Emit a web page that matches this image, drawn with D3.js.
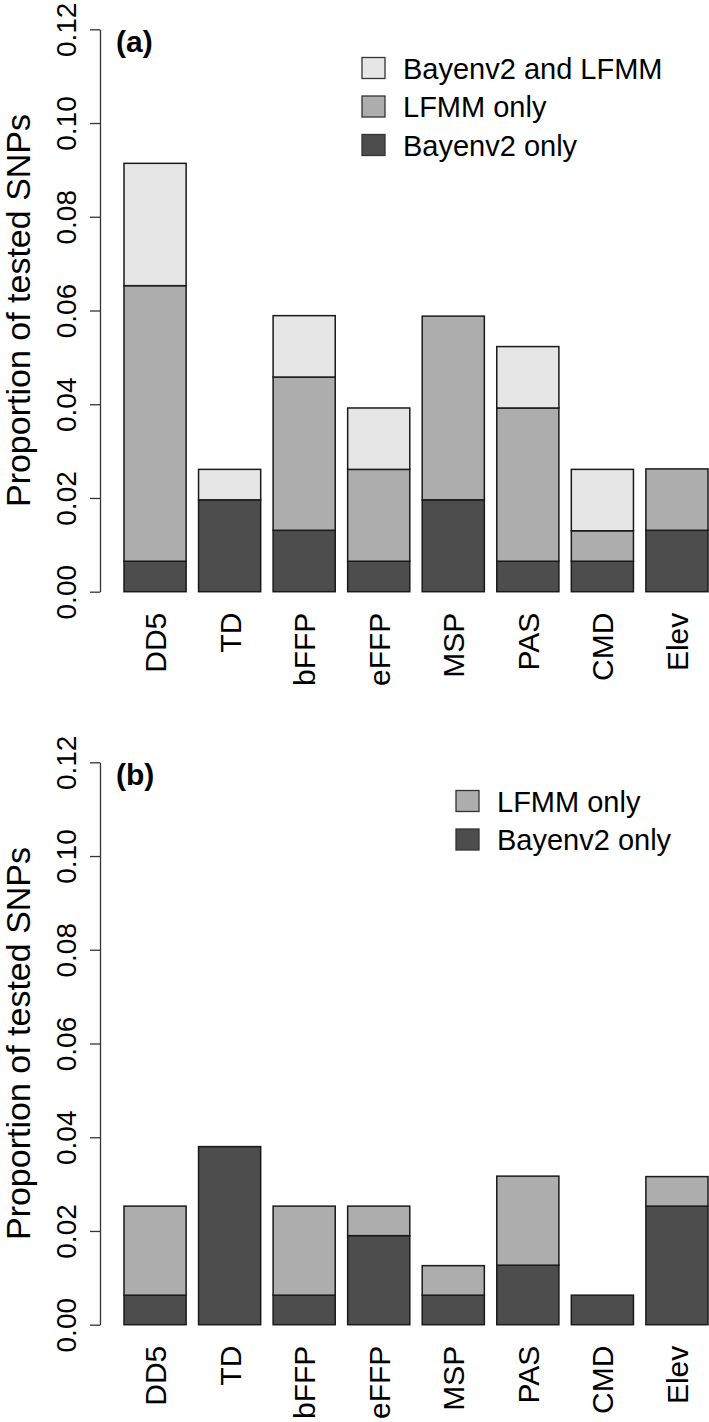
<!DOCTYPE html>
<meta charset="utf-8">
<script src="https://d3js.org/d3.v7.min.js"></script>
<style>
  body { margin: 0; background: #fff; }
  text { font-family: "Liberation Sans", Arial, sans-serif; fill: #000; }
</style>
<div id="chart"></div>
<script>
  // categories (environmental variables)
  var categories = ["DD5", "TD", "bFFP", "eFFP", "MSP", "PAS", "CMD", "Elev"];
  var yTicks = [0, 0.02, 0.04, 0.06, 0.08, 0.10, 0.12];

  // panel (a): proportion of tested SNPs
  var aBayenvOnly = [0.0065, 0.0196, 0.0131, 0.0065, 0.0196, 0.0065, 0.0065, 0.0131];
  var aLfmmOnly   = [0.0588, 0.0000, 0.0327, 0.0196, 0.0392, 0.0327, 0.0065, 0.0131];
  var aBoth       = [0.0261, 0.0065, 0.0131, 0.0131, 0.0000, 0.0131, 0.0131, 0.0000];

  // panel (b)
  var bBayenvOnly = [0.0063, 0.0380, 0.0063, 0.0190, 0.0063, 0.0127, 0.0063, 0.0253];
  var bLfmmOnly   = [0.0190, 0.0000, 0.0190, 0.0063, 0.0063, 0.0190, 0.0000, 0.0063];

  var colors = { bayenv: "#4d4d4d", lfmm: "#adadad", both: "#e6e6e6" };

  var W = 709, H = 1422;
  var svg = d3.select("#chart").append("svg")
    .attr("width", W)
    .attr("height", H);

  var x = d3.scaleBand()
    .domain(categories)
    .range([124, 708])
    .paddingInner(1 / 6)
    .paddingOuter(0);

  function drawPanel(top, tag, series, legendX) {
    var g = svg.append("g").attr("transform", "translate(0," + top + ")");

    var y = d3.scaleLinear()
      .domain([0, 0.12])
      .range([562.4, 0]);
    var y0 = 29.3;

    // stack the series (bottom first)
    var rows = categories.map(function (c, i) {
      var r = { cat: c };
      series.forEach(function (s) { r[s.key] = s.values[i]; });
      return r;
    });
    var stacked = d3.stack().keys(series.map(function (s) { return s.key; }))(rows);

    var plot = g.append("g").attr("transform", "translate(0," + y0 + ")");

    stacked.forEach(function (layer, li) {
      plot.selectAll(".bar" + li)
        .data(layer.filter(function (d) { return d[1] - d[0] > 0; }))
        .enter()
        .append("rect")
        .attr("x", function (d) { return x(d.data.cat); })
        .attr("y", function (d) { return y(d[1]); })
        .attr("width", x.bandwidth())
        .attr("height", function (d) { return y(d[0]) - y(d[1]); })
        .attr("fill", colors[series[li].key])
        .attr("stroke", "#1a1a1a")
        .attr("stroke-width", 1.5);
    });

    // y axis
    var ax = plot.append("g")
      .attr("transform", "translate(100,0)")
      .call(d3.axisLeft(y).tickValues(yTicks).tickSize(10).tickSizeOuter(0).tickFormat(d3.format(".2f")));
    ax.select(".domain").attr("stroke", "#333").attr("stroke-width", 1.3);
    ax.selectAll(".tick line").attr("stroke", "#333").attr("stroke-width", 1.3);
    ax.selectAll(".tick text")
      .attr("x", null).attr("y", null).attr("dy", null)
      .attr("transform", "translate(-24,0) rotate(-90)")
      .attr("text-anchor", "middle")
      .attr("fill", "#000")
      .style("font-size", "28px")
      .style("font-family", "Liberation Sans, Arial, sans-serif");

    // category labels
    var bx = plot.append("g")
      .attr("transform", "translate(0," + y(0) + ")")
      .call(d3.axisBottom(x).tickSize(0));
    bx.select(".domain").remove();
    bx.selectAll(".tick text")
      .attr("x", null).attr("y", null).attr("dy", null)
      .attr("transform", "translate(11,21) rotate(-90)")
      .attr("text-anchor", "end")
      .attr("fill", "#000")
      .style("font-size", "30px")
      .style("font-family", "Liberation Sans, Arial, sans-serif");

    // y axis title
    g.append("text")
      .attr("transform", "translate(30," + (y0 + y(0.06)) + ") rotate(-90)")
      .attr("text-anchor", "middle")
      .style("font-size", "34px")
      .text("Proportion of tested SNPs");

    // panel tag
    g.append("text")
      .attr("x", 116)
      .attr("y", 52)
      .style("font-size", "30px")
      .style("font-weight", "bold")
      .text(tag);

    // legend (top entry is the last stacked series)
    var legendItems = series.slice().reverse();
    var lg = g.append("g").attr("transform", "translate(" + legendX + ",0)");
    legendItems.forEach(function (s, i) {
      var cy = 68 + i * 38.5;
      lg.append("rect")
        .attr("x", 0)
        .attr("y", cy - 10.5)
        .attr("width", 23)
        .attr("height", 21)
        .attr("fill", colors[s.key])
        .attr("stroke", "#333")
        .attr("stroke-width", 1.3);
      lg.append("text")
        .attr("x", 41)
        .attr("y", cy + 10.5)
        .style("font-size", "29px")
        .text(s.label);
    });
  }

  drawPanel(0, "(a)", [
    { key: "bayenv", label: "Bayenv2 only", values: aBayenvOnly },
    { key: "lfmm", label: "LFMM only", values: aLfmmOnly },
    { key: "both", label: "Bayenv2 and LFMM", values: aBoth }
  ], 362);

  drawPanel(733, "(b)", [
    { key: "bayenv", label: "Bayenv2 only", values: bBayenvOnly },
    { key: "lfmm", label: "LFMM only", values: bLfmmOnly }
  ], 456);
</script>
